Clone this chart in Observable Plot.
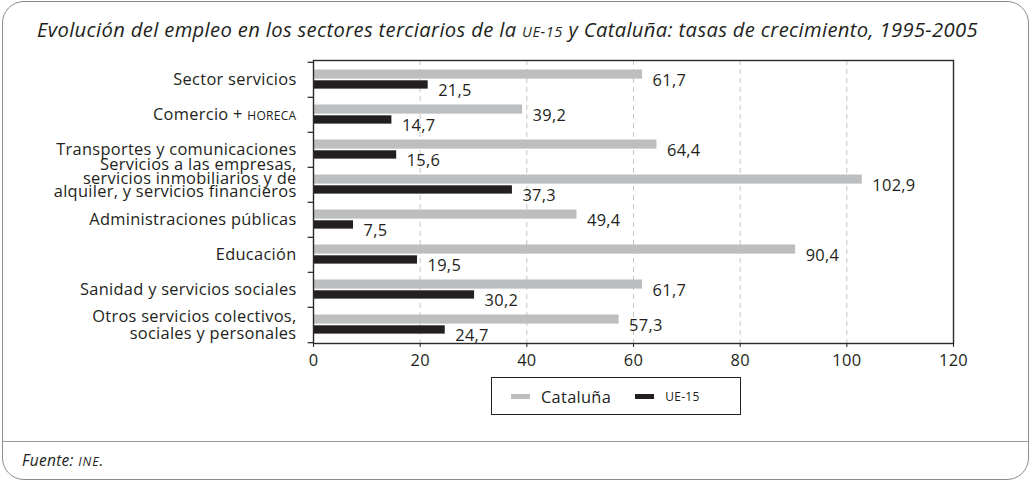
<!DOCTYPE html>
<html>
<head>
<meta charset="utf-8">
<script src="https://cdn.jsdelivr.net/npm/d3@7"></script>
<script src="https://cdn.jsdelivr.net/npm/@observablehq/plot@0.6"></script>
<style>
  html, body { margin: 0; padding: 0; background: #fff; }
  #wrap { position: relative; width: 1032px; height: 482px; font-family: "Open Sans", Lato, sans-serif; color: #231f20; letter-spacing: 0.3px; }
  .box { position: absolute; left: 2px; top: 1px; width: 1027px; height: 479px; border: 1.5px solid #8c8c8c; border-radius: 22px; box-sizing: border-box; }
  .title { position: absolute; left: 37px; top: 15px; font-style: italic; font-size: 20.2px; letter-spacing: 0.35px; white-space: nowrap; color: #231f20; }
  .sc { font-size: 0.72em; letter-spacing: 0.04em; }
  #chart { position: absolute; left: 0; top: 44px; }
  .legend { position: absolute; left: 491px; top: 377px; width: 250px; height: 38px; border: 1.5px solid #231f20; box-sizing: border-box; display: flex; align-items: center; padding-left: 19px; font-size: 16.4px; }
  .legend .item { display: flex; align-items: center; }
  .legend .sw { width: 19px; height: 5px; margin-right: 11px; }
  .sep { position: absolute; left: 2px; top: 441px; width: 1027px; border-top: 1.5px solid #9a9a9a; }
  .foot { position: absolute; left: 22px; top: 449px; font-style: italic; font-size: 15.5px; }
</style>
</head>
<body>
<div id="wrap">
  <div class="box"></div>
  <div class="title">Evolución del empleo en los sectores terciarios de la <span class="sc">UE-15</span> y Cataluña: tasas de crecimiento, 1995-2005</div>
  <div id="chart"></div>
  <div class="legend" id="legend"></div>
  <div class="sep"></div>
  <div class="foot">Fuente: <span class="sc" style="font-size:0.8em;letter-spacing:0.08em">INE</span>.</div>
</div>
<script>
const categories = [
  "Sector servicios",
  "Comercio + HORECA",
  "Transportes y comunicaciones",
  "Servicios a las empresas, servicios inmobiliarios y de alquiler, y servicios financieros",
  "Administraciones públicas",
  "Educación",
  "Sanidad y servicios sociales",
  "Otros servicios colectivos, sociales y personales"
];
const categoryLabels = [
  "Sector servicios",
  "Comercio + HORECA",
  "Transportes y comunicaciones",
  "Servicios a las empresas,\nservicios inmobiliarios y de\nalquiler, y servicios financieros",
  "Administraciones públicas",
  "Educación",
  "Sanidad y servicios sociales",
  "Otros servicios colectivos,\nsociales y personales"
];
const seriesNames = ["Cataluña", "UE-15"];
const seriesColors = ["#bcbec0", "#231f20"];
const cataluna = [61.7, 39.2, 64.4, 102.9, 49.4, 90.4, 61.7, 57.3];
const ue15 = [21.5, 14.7, 15.6, 37.3, 7.5, 19.5, 30.2, 24.7];
const xTicks = [0, 20, 40, 60, 80, 100, 120];

const rows = categories.map((c, i) => ({category: c, cat: cataluna[i], ue: ue15[i]}));
const fmt = v => v.toFixed(1).replace(".", ",");
const labelOf = d => categoryLabels[categories.indexOf(d)];

const W = 1032, H = 329;
const mTop = 16, mBottom = 30, mLeft = 313, mRight = 79;
const bw = (H - mTop - mBottom) / categories.length;
const multi = categories[3];
const font = "'Open Sans', Lato, sans-serif";
const fs = 16.4;

const chart = Plot.plot({
  width: W, height: H,
  marginTop: mTop, marginBottom: mBottom, marginLeft: mLeft, marginRight: mRight,
  style: {fontFamily: font, color: "#231f20", background: "transparent", overflow: "visible"},
  x: {domain: [0, 120], label: null},
  y: {domain: categories, padding: 0, label: null},
  marks: [
    Plot.gridX({ticks: xTicks.filter(t => t > 0 && t < 120), stroke: "#c4c4c4", strokeOpacity: 1, strokeDasharray: "5,4"}),
    Plot.barX(rows, {x: "cat", y: "category", fill: seriesColors[0], insetTop: 7.5, insetBottom: bw - 17}),
    Plot.barX(rows, {x: "ue", y: "category", fill: seriesColors[1], insetTop: 18.3, insetBottom: bw - 27}),
    Plot.text(rows, {x: "cat", y: "category", text: d => fmt(d.cat), dx: 10, dy: 0.5, textAnchor: "start", fontSize: fs, fill: "#231f20"}),
    Plot.text(rows, {x: "ue", y: "category", text: d => fmt(d.ue), dx: 10, dy: 10.5, textAnchor: "start", fontSize: fs, fill: "#231f20"}),
    Plot.frame({stroke: "#2b2b2b", strokeWidth: 1.4}),
    Plot.ruleY(categories, {y: d => d, x1: -1, x2: 0, dy: -bw / 2, stroke: "#231f20", strokeWidth: 1.2}),
    Plot.ruleY([categories[categories.length - 1]], {y: d => d, x1: -1, x2: 0, dy: bw / 2, stroke: "#231f20", strokeWidth: 1.2}),
    Plot.axisX({ticks: xTicks, tickSize: 4, tickPadding: 7, fontSize: fs, label: null, tickFormat: d => String(d)}),
    Plot.axisY({ticks: categories.filter(c => c !== multi), tickSize: 0, tickPadding: 17, fontSize: fs, lineHeight: 1.04, label: null, tickFormat: labelOf}),
    Plot.axisY({ticks: [multi], tickSize: 0, tickPadding: 17, fontSize: fs, lineHeight: 0.83, dy: -5.5, label: null, tickFormat: labelOf})
  ]
});
document.getElementById("chart").appendChild(chart);

// small caps for acronym inside category label
chart.querySelectorAll("text").forEach(t => {
  if (t.textContent === "Comercio + HORECA") {
    t.textContent = "Comercio + ";
    const ts = document.createElementNS("http://www.w3.org/2000/svg", "tspan");
    ts.setAttribute("font-size", "12");
    ts.textContent = "HORECA";
    t.appendChild(ts);
  }
});

// legend
const lg = document.getElementById("legend");
seriesNames.forEach((name, i) => {
  const it = document.createElement("div");
  it.className = "item";
  const sw = document.createElement("div");
  sw.className = "sw";
  sw.style.background = seriesColors[i];
  const tx = document.createElement("span");
  tx.textContent = name;
  if (name === "UE-15") tx.style.fontSize = "12px";
  if (i === 0) it.style.marginRight = "24px";
  it.appendChild(sw); it.appendChild(tx);
  lg.appendChild(it);
});
</script>
</body>
</html>
